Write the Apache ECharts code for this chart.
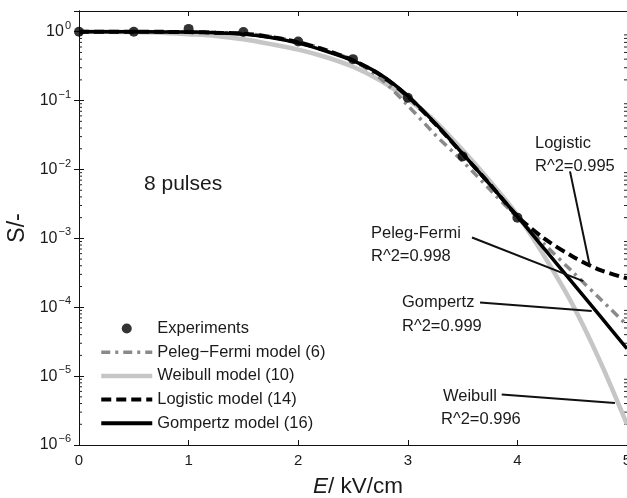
<!DOCTYPE html>
<html><head><meta charset="utf-8">
<script src="https://cdn.jsdelivr.net/npm/echarts@6/dist/echarts.min.js"></script>
<style>html,body{margin:0;padding:0;background:#fff}#c{width:627px;height:498px}</style>
</head><body><div id="c"></div>
<script>
// ---- data ----
const fieldE = [0,0.25,0.5,0.75,1,1.25,1.5,1.75,2,2.25,2.5,2.75,3,3.25,3.5,3.75,4,4.25,4.5,4.75,5];
const expE = [0,0.5,1,1.5,2,2.5,3,3.5,4];
const expS = [1.0,1.0,1.1,0.99,0.72,0.40,0.11,0.0155,0.0020];
const pelegS = [1,1,1,0.998,0.993,0.975,0.94,0.85,0.71,0.55,0.38,0.21,0.085,0.032,0.0132,0.0051,0.0020,8.1e-4,3.3e-4,1.35e-4,5.5e-5];
const weibullS = [1,1,0.99,0.966,0.92,0.87,0.776,0.66,0.55,0.43,0.31,0.195,0.105,0.0501,0.0191,0.00676,0.00219,5.37e-4,1.12e-4,1.7e-5,2.0e-6];
const logisticS = [1,1,1,0.996,0.99,0.968,0.94,0.84,0.70,0.54,0.385,0.235,0.115,0.046,0.0168,0.0061,0.0021,9.8e-4,5.5e-4,3.5e-4,2.63e-4];
const gompertzS = [1,1,1,0.995,0.989,0.966,0.923,0.822,0.684,0.525,0.380,0.240,0.1175,0.0468,0.0170,0.00603,0.00209,6.9e-4,2.29e-4,7.6e-5,2.5e-5];
const seriesNames = ['Experiments','Peleg\u2212Fermi model (6)','Weibull model (10)','Logistic model (14)','Gompertz model (16)'];
const xTicks = [0,1,2,3,4,5];
const yDecades = [1e-6,1e-5,1e-4,1e-3,1e-2,1e-1,1];
const minorMult = [2,3,4,5,6,7,8,9];
// annotation leaders (data coords)
const leaderLogistic = [[4.48,9.4e-3],[4.662,3.9e-4]];
const leaderPeleg = [[3.586,1.03e-3],[4.601,2.4e-4]];
const leaderGompertz = [[3.659,1.17e-4],[4.678,8.8e-5]];
const leaderWeibull = [[3.857,5.4e-6],[4.89,4.07e-6]];

const pair = (xs, ys) => xs.map((x,i)=>[x, ys[i]]);
const minorTicks = [];
yDecades.slice(0,-1).forEach(d => minorMult.forEach(m => minorTicks.push([0, d*m])));

const FONT = 'Liberation Sans, Arial, Helvetica, sans-serif';
const chart = echarts.init(document.getElementById('c'), null, {renderer:'canvas'});

function leader(data){
  return {type:'line', data:data, symbol:'none', silent:true, z:6,
    lineStyle:{color:'#111', width:2}, legendHoverLink:false, tooltip:{show:false}};
}

const ann = (text, x, y, size) => ({type:'text', x:x, y:y, z:100,
  style:{text:text, fill:'#1a1a1a', font: size + 'px ' + FONT, verticalAlign:'middle', align:'left'}});

const legendWidths = [0, 3.5, 4.5, 4, 4];
const legendData = seriesNames.map((n,i) => i === 0 ? {name:n} : {name:n, itemStyle:{opacity:0}, lineStyle:{width:legendWidths[i]}});

chart.setOption({
  animation:false,
  textStyle:{fontFamily:FONT},
  grid:{left:79, right:0, top:11, bottom:53, containLabel:false, outerBoundsMode:'none'},
  legend:{
    data: legendData, orient:'vertical', left:99, top:320, padding:0,
    itemWidth:51, itemHeight:10, itemGap:6.7,
    lineStyle:{width:'inherit'},
    textStyle:{fontSize:16.5, color:'#1a1a1a', fontFamily:FONT},
    selectedMode:false
  },
  xAxis:[{
    type:'value', min:0, max:5, interval:1, position:'bottom',
    axisLine:{show:true, lineStyle:{color:'#111', width:1}},
    axisTick:{show:true, inside:true, length:5, lineStyle:{color:'#111'}},
    axisLabel:{fontSize:15, color:'#1a1a1a', margin:8, showMaxLabel:true, showMinLabel:true},
    splitLine:{show:false},
    name:'{i|E}{n|/ kV/cm}', nameLocation:'middle', nameGap:30,
    nameTextStyle:{padding:[0,0,0,10], rich:{i:{fontStyle:'italic', fontSize:22.5, color:'#1a1a1a', fontFamily:FONT}, n:{fontSize:22.5, color:'#1a1a1a', fontFamily:FONT}}}
  },{
    type:'value', min:0, max:5, interval:1, position:'top',
    axisLine:{show:true, lineStyle:{color:'#111', width:1}},
    axisTick:{show:true, inside:true, length:5, lineStyle:{color:'#111'}},
    axisLabel:{show:false}, splitLine:{show:false}
  }],
  yAxis:[{
    type:'log', logBase:10, min:1e-6, max:2, position:'left',
    axisLine:{show:true, lineStyle:{color:'#111', width:1}},
    axisTick:{show:true, inside:true, length:5, lineStyle:{color:'#111'}},
    axisLabel:{
      margin:8, showMaxLabel:false,
      formatter:function(v){
        const l = Math.log10(v); const e = Math.round(l);
        if (Math.abs(l - e) > 1e-6) return '';
        return '{b|10}{s|' + (e < 0 ? '\u2212' + (-e) : e) + '}';
      },
      rich:{b:{fontSize:16, color:'#1a1a1a', fontFamily:FONT}, s:{fontSize:11, color:'#1a1a1a', fontFamily:FONT, verticalAlign:'bottom', padding:[0,0,12,1]}}
    },
    splitLine:{show:false},
    name:'S/-', nameLocation:'middle', nameGap:49, nameRotate:90,
    nameTextStyle:{fontSize:23, color:'#1a1a1a', fontFamily:FONT}
  },{
    type:'log', logBase:10, min:1e-6, max:2, position:'right',
    axisLine:{show:true, lineStyle:{color:'#111', width:1}},
    axisTick:{show:true, inside:true, length:5, lineStyle:{color:'#111'}},
    axisLabel:{show:false}, splitLine:{show:false}
  }],
  series:[
    {type:'custom', silent:true, data:minorTicks, encode:{x:0,y:1}, z:1, clip:false,
      renderItem:function(params, api){
        const v = api.value(1);
        const pL = api.coord([0, v]); const pR = api.coord([5, v]);
        return {type:'group', children:[
          {type:'line', shape:{x1:pL[0], y1:pL[1], x2:pL[0]+3, y2:pL[1]}, style:{stroke:'#222', lineWidth:1}},
          {type:'line', shape:{x1:pR[0], y1:pR[1], x2:pR[0]-3, y2:pR[1]}, style:{stroke:'#222', lineWidth:1}}
        ]};
      }},
    {name:seriesNames[1], type:'line', data:pair(fieldE, pelegS), symbol:'none', showSymbol:false, smooth:0.3, z:3,
      lineStyle:{color:'#8a8a8a', width:3.5, type:[9,5,3,5]}, itemStyle:{color:'#8a8a8a'}},
    {name:seriesNames[2], type:'line', data:pair(fieldE, weibullS), symbol:'none', showSymbol:false, smooth:0.3, z:2,
      lineStyle:{color:'#c6c6c6', width:4.5}, itemStyle:{color:'#c6c6c6'}},
    {name:seriesNames[3], type:'line', data:pair(fieldE, logisticS), symbol:'none', showSymbol:false, smooth:0.3, z:4,
      lineStyle:{color:'#000', width:4, type:[10,5]}, itemStyle:{color:'#000'}},
    {name:seriesNames[4], type:'line', data:pair(fieldE, gompertzS), symbol:'none', showSymbol:false, smooth:0.3, z:5,
      lineStyle:{color:'#000', width:3.5}, itemStyle:{color:'#000'}},
    {name:seriesNames[0], type:'scatter', data:pair(expE, expS), symbol:'circle', symbolSize:10, z:7, clip:false,
      itemStyle:{color:'#000'}},
    leader(leaderLogistic), leader(leaderPeleg), leader(leaderGompertz), leader(leaderWeibull)
  ],
  graphic:[
    ann('8 pulses', 144, 184, 21),
    ann('Logistic', 535, 143, 16.5),
    ann('R^2=0.995', 535, 166, 16.5),
    ann('Peleg-Fermi', 371, 233, 16.5),
    ann('R^2=0.998', 371, 256, 16.5),
    ann('Gompertz', 402, 302, 16.5),
    ann('R^2=0.999', 402, 326, 16.5),
    ann('Weibull', 443, 396, 16.5),
    ann('R^2=0.996', 441, 419, 16.5)
  ]
});
</script></body></html>
